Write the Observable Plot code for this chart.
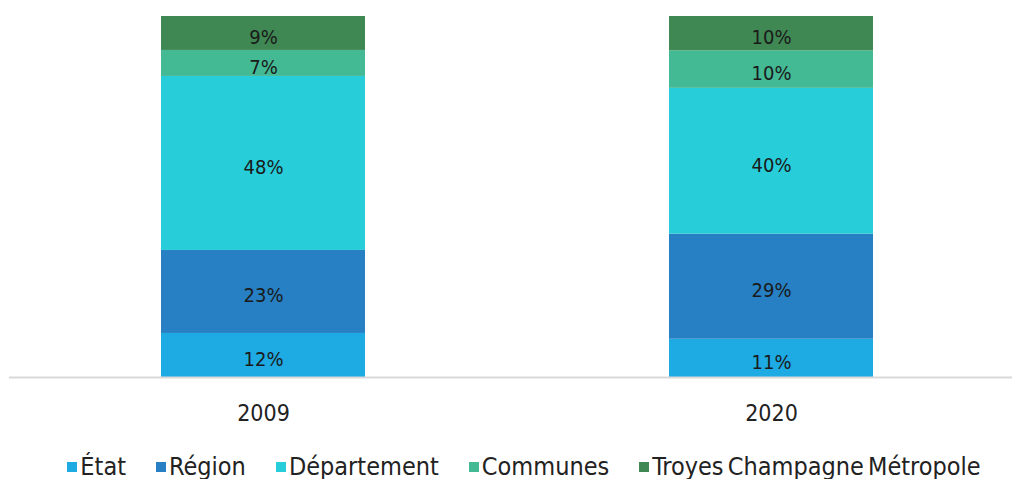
<!DOCTYPE html>
<html>
<head>
<meta charset="utf-8">
<script src="https://cdn.jsdelivr.net/npm/d3@7"></script>
<script src="https://cdn.jsdelivr.net/npm/@observablehq/plot@0.6"></script>
<style>
  html, body { margin: 0; padding: 0; background: #fff; }
  body { width: 1012px; font-family: "DejaVu Sans Condensed", "DejaVu Sans", sans-serif; font-stretch: condensed; }
  #legend { display: flex; justify-content: center; align-items: center; height: 39px; margin-top: 7px; font-size: 25px; word-spacing: -3px; color: #222; padding-left: 36px; }
  .item { display: flex; align-items: center; margin: 0 15px; }
  .sw { width: 10px; height: 10px; margin-right: 3px; margin-top: 0px; }
</style>
</head>
<body>
<div id="chart"></div>
<div id="legend"></div>
<script>
const years = ["2009", "2020"];
const series = ["État", "Région", "Département", "Communes", "Troyes Champagne Métropole"];
const colors = ["#1EAAE2", "#2680C3", "#27CDD8", "#43B994", "#3F8753"];
const values2009 = [12.2, 23.0, 48.2, 7.2, 9.4];
const values2020 = [10.6, 29.1, 40.4, 10.4, 9.5];

const data = [];
series.forEach((s, i) => {
  data.push({year: years[0], series: s, value: values2009[i]});
  data.push({year: years[1], series: s, value: values2020[i]});
});

const plot = Plot.plot({
  width: 1012,
  height: 440,
  marginTop: 16,
  marginBottom: 63,
  marginLeft: 9,
  marginRight: 0,
  style: {fontFamily: '"DejaVu Sans Condensed", "DejaVu Sans", sans-serif', fontStretch: "condensed", fontSize: "23px", color: "#222"},
  x: {domain: years, paddingInner: 0.598, paddingOuter: 0.286, align: 0.522, label: null, tickSize: 0, tickPadding: 27},
  y: {domain: [0, 100], axis: null},
  color: {domain: series, range: colors},
  marks: [
    Plot.barY(data, Plot.stackY({x: "year", y: "value", fill: "series", order: series})),
    Plot.text(data, Plot.stackY({x: "year", y: "value", z: "series", order: series, text: d => Math.round(d.value) + "%", fill: "#1a1a1a", fontSize: 20, dy: 4})),
    Plot.ruleY([0], {stroke: "#d9d9d9", strokeWidth: 2})
  ]
});
document.getElementById("chart").appendChild(plot);

const legend = document.getElementById("legend");
series.forEach((s, i) => {
  const item = document.createElement("div");
  item.className = "item";
  const sw = document.createElement("span");
  sw.className = "sw";
  sw.style.background = colors[i];
  const t = document.createElement("span");
  t.textContent = s;
  item.appendChild(sw);
  item.appendChild(t);
  legend.appendChild(item);
});
</script>
</body>
</html>
